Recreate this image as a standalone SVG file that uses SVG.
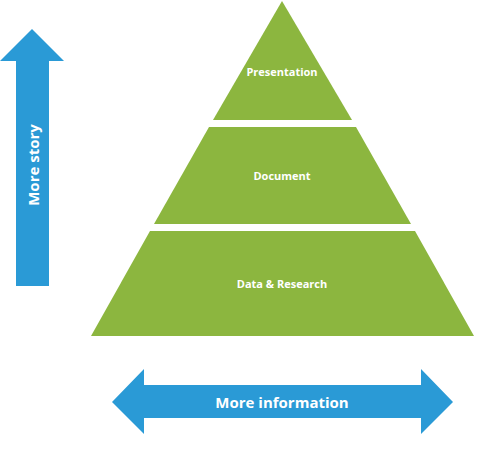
<svg xmlns="http://www.w3.org/2000/svg" width="497" height="450" viewBox="0 0 497 450">
<style>
.tier{fill:#8cb63f}
.arrow{fill:#2a9ad6}
.lbl{font-family:"Open Sans","Liberation Sans",sans-serif;font-weight:bold;fill:#ffffff;text-anchor:middle;dominant-baseline:central}
.small{font-size:11px}
.big{font-size:15px}
</style>
<rect width="497" height="450" fill="#ffffff"/>
<g id="presentation">
<polygon class="tier" points="282,1 352,120 213,120"/>
<text class="lbl small" x="282" y="71">Presentation</text>
</g>
<g id="document">
<polygon class="tier" points="209,127 356,127 411,224 154,224"/>
<text class="lbl small" x="282" y="175">Document</text>
</g>
<g id="data-research">
<polygon class="tier" points="150,231 415,231 474,336 91,336"/>
<text class="lbl small" x="282" y="283">Data &amp; Research</text>
</g>
<g id="connectors">
<g id="more-story">
<polygon class="arrow" points="32,29 64,61 49,61 49,286 16,286 16,61 0,61"/>
<text class="lbl big" transform="translate(33,165) rotate(-90)">More story</text>
</g>
<g id="more-information">
<polygon class="arrow" points="112,402 144,369 144,385 421,385 421,369 453,402 421,434 421,418 144,418 144,434"/>
<text class="lbl big" x="282" y="402">More information</text>
</g>
</g>
</svg>
